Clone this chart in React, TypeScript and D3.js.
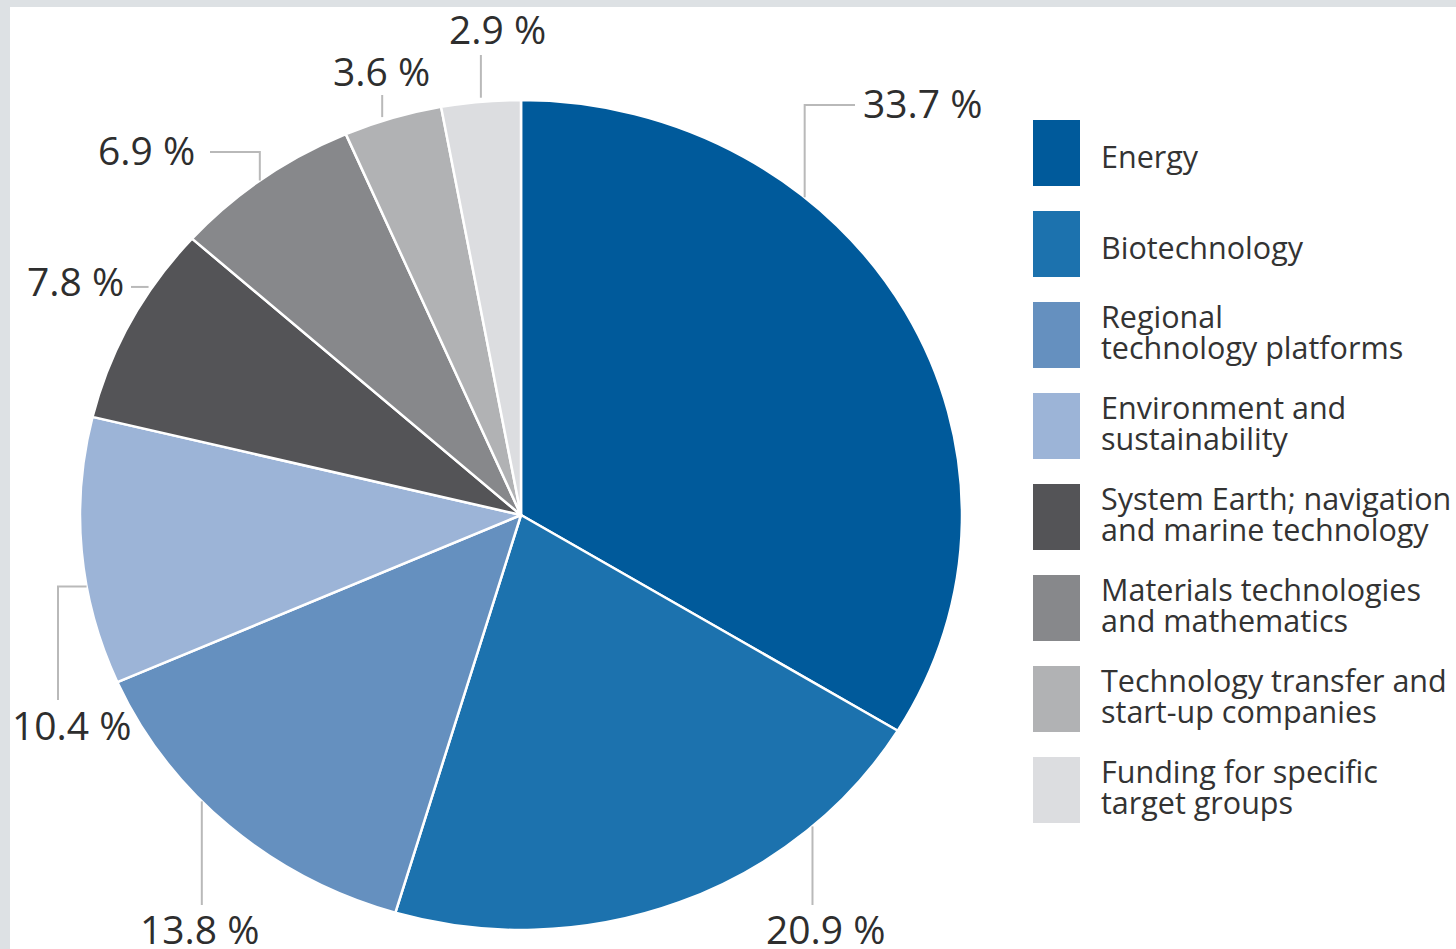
import { useEffect } from 'react'
import * as d3 from 'd3'

// Shares of funding by programme area, in percent
const categories = [
  'Energy',
  'Biotechnology',
  'Regional technology platforms',
  'Environment and sustainability',
  'System Earth; navigation and marine technology',
  'Materials technologies and mathematics',
  'Technology transfer and start-up companies',
  'Funding for specific target groups',
]
const values = [33.7, 20.9, 13.8, 10.4, 7.8, 6.9, 3.6, 2.9]
const legendLines = [
  ['Energy'],
  ['Biotechnology'],
  ['Regional', 'technology platforms'],
  ['Environment and', 'sustainability'],
  ['System Earth; navigation', 'and marine technology'],
  ['Materials technologies', 'and mathematics'],
  ['Technology transfer and', 'start-up companies'],
  ['Funding for specific', 'target groups'],
]
const colors = ['#005a9b', '#1c72ae', '#6590bf', '#9cb4d7', '#545457', '#87888b', '#b1b2b4', '#dcdde0']

// where each label sits and how its leader line runs from the pie edge
type Pt = [number, number]
const labelLayout: { frac: number; leader: (a: Pt) => Pt[]; tx: number; ty: number }[] = [
  { frac: 0.33, leader: ([x, y]) => [[x, y], [x, 105], [855, 105]], tx: 863, ty: 118 },
  { frac: 0.23, leader: ([x, y]) => [[x, y], [x, 905]], tx: 766, ty: 944 },
  { frac: 0.6, leader: ([x, y]) => [[x, y], [x, 905]], tx: 140, ty: 944 },
  { frac: 0.37, leader: ([x, y]) => [[x, y], [58, y], [58, 700]], tx: 12, ty: 740 },
  { frac: 0.7, leader: ([x, y]) => [[x - 4, y], [131, y]], tx: 27, ty: 296 },
  { frac: 0.48, leader: ([x, y]) => [[x, y], [x, 152], [210, 152]], tx: 98, ty: 165 },
  { frac: 0.39, leader: ([x, y]) => [[x, y - 4], [x, 95]], tx: 333, ty: 86 },
  { frac: 0.5, leader: ([x, y]) => [[x, y - 4], [x, 55]], tx: 449, ty: 44 },
]

const W = 1456
const H = 949
const cx = 521
const cy = 515
const rx = 441
const ry = 415
const font = '"Open Sans", "Noto Sans", sans-serif'

export default function App() {
  useEffect(() => {
    document.body.style.margin = '0'
  }, [])

  const pie = d3
    .pie<number>()
    .sort(null)
    .value((d) => d)
    .startAngle(0)
    .endAngle(2 * Math.PI)
  const arcs = pie(values)
  const arc = d3.arc<d3.PieArcDatum<number>>().innerRadius(0).outerRadius(rx)

  const edgePoint = (a: number): Pt => [cx + rx * Math.sin(a), cy - ry * Math.cos(a)]
  const line = d3.line()

  // 66px swatches, 25px apart
  const legendY = d3
    .scaleBand<number>()
    .domain(d3.range(categories.length))
    .range([120, 120 + 91 * categories.length - 25])
    .paddingInner(25 / 91)
    .paddingOuter(0)

  return (
    <svg width={W} height={H} style={{ display: 'block' }}>
      <rect x={0} y={0} width={W} height={H} fill="#dde1e4" />
      <rect x={10} y={7} width={W - 10} height={H - 7} fill="#ffffff" />

      <g transform={`translate(${cx},${cy}) scale(1,${ry / rx})`}>
        {arcs.map((d, i) => (
          <path
            key={categories[i]}
            d={arc(d) ?? ''}
            fill={colors[i]}
            stroke="#ffffff"
            strokeWidth={2.5}
            strokeLinejoin="round"
            vectorEffect="non-scaling-stroke"
          />
        ))}
      </g>

      {arcs.map((d, i) => {
        const lay = labelLayout[i]
        const a = d.startAngle + lay.frac * (d.endAngle - d.startAngle)
        const pts = lay.leader(edgePoint(a))
        return (
          <g key={`lab-${i}`}>
            <path d={line(pts) ?? ''} fill="none" stroke="#b9b9b9" strokeWidth={2} />
            <text x={lay.tx} y={lay.ty} fontFamily={font} fontSize={39} fill="#2e2e2e">
              {`${values[i].toFixed(1)} %`}
            </text>
          </g>
        )
      })}

      <g>
        {categories.map((c, i) => {
          const y0 = legendY(i)!
          const h = legendY.bandwidth()
          const mid = y0 + h / 2
          const lines = legendLines[i]
          const firstY = lines.length === 1 ? mid + 15 : mid - 7
          return (
            <g key={c}>
              <rect x={1033} y={y0} width={47} height={h} fill={colors[i]} />
              <text x={1101} y={firstY} fontFamily={font} fontSize={30.5} fill="#333333">
                {lines.map((t, j) => (
                  <tspan key={t} x={1101} dy={j === 0 ? 0 : 31}>
                    {t}
                  </tspan>
                ))}
              </text>
            </g>
          )
        })}
      </g>
    </svg>
  )
}
